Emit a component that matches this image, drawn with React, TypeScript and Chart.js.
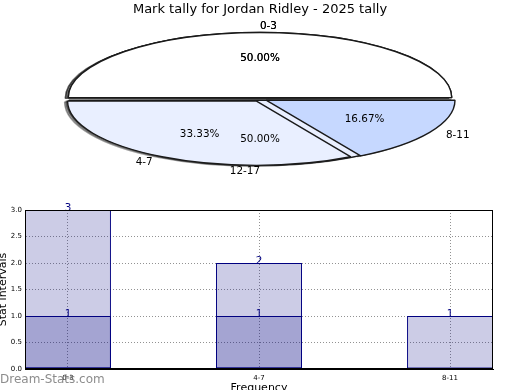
import React, { useEffect, useRef } from 'react';
import { Chart, registerables } from 'chart.js';

Chart.register(...registerables);

const FONT = "'DejaVu Sans', 'Liberation Sans', sans-serif";
const TITLE = 'Mark tally for Jordan Ridley - 2025 tally';

// Pie 1 (front): intervals
const pieLabels = ['0-3', '8-11', '4-7'];
const pieValues = [3, 1, 2];
const pieColors = ['#ffffff', '#c6d8ff', '#e9efff'];
const pieExplode = [15, 28, 28];

// Pie 2 (behind)
const pie2Labels = ['0-3', '12-17'];
const pie2Values = [1, 1];
const pie2Colors = ['#ffffff', '#e9efff'];
const pie2Explode = [15, 12];

// Bars
const categories = ['0-3', '4-7', '8-11'];
const barTotals = [3, 2, 1];
const barSecond: (number | null)[] = [1, 1, null];
const xIdx = categories.map((_, i) => i);

const R = 188;
const SY = 64 / 188;
const CY = 99;

type PieEntry = { chart?: any; labels: string[]; values: number[] };
const registry: { front: PieEntry; back: PieEntry } = {
  front: { labels: pieLabels, values: pieValues },
  back: { labels: pie2Labels, values: pie2Values },
};

function withEllipse(ctx: any, chart: any, fn: () => void) {
  const el = chart.getDatasetMeta(0).data[0];
  if (!el) return;
  const dpr = chart.currentDevicePixelRatio || 1;
  ctx.save();
  ctx.translate(0, CY);
  ctx.scale(1, SY);
  ctx.translate(0, -el.y);
  const orig = CanvasRenderingContext2D.prototype.stroke;
  ctx.stroke = function (...args: any[]) {
    const f = this.filter;
    this.save();
    this.setTransform(dpr, 0, 0, dpr, 0, 0);
    this.filter = f;
    orig.apply(this, args as any);
    this.restore();
  };
  try {
    fn();
  } finally {
    delete ctx.stroke;
    ctx.restore();
  }
}

function drawShadows(ctx: any, chart: any) {
  withEllipse(ctx, chart, () => {
    ctx.save();
    ctx.filter = 'brightness(0) opacity(0.36)';
    ctx.translate(-3, 0.8 / SY);
    chart.getDatasetMeta(0).data.forEach((el: any) => el.draw(ctx));
    ctx.restore();
  });
}

function drawLabels(ctx: any, entry: PieEntry) {
  const chart = entry.chart;
  if (!chart) return;
  const meta = chart.getDatasetMeta(0);
  const values = entry.values;
  const total = values.reduce((a, b) => a + b, 0);
  ctx.save();
  ctx.fillStyle = '#000';
  ctx.font = `10.4px ${FONT}`;
  ctx.textBaseline = 'middle';
  meta.data.forEach((el: any, i: number) => {
    const { x, y, startAngle, endAngle, outerRadius } = el.getProps(
      ['x', 'y', 'startAngle', 'endAngle', 'outerRadius'],
      true
    );
    const mid = (startAngle + endAngle) / 2;
    const circ = endAngle - startAngle;
    const off = (el.options.offset || 0) / 4;
    const fix = 1 - Math.sin(Math.min(Math.PI, circ));
    const t = off * (1 + fix);
    const ux = x + Math.cos(mid) * t;
    const uy = y + Math.sin(mid) * t;
    const at = (k: number) => [
      ux + Math.cos(mid) * outerRadius * k,
      CY + (uy - y + Math.sin(mid) * outerRadius * k) * SY,
    ];
    const c = Math.cos(mid);
    const align =
      Math.abs(c) > 1e-6 ? (c > 0 ? 'left' : 'right') : Math.sin(mid) < 0 ? 'left' : 'right';
    const [lx, ly] = at(1.1);
    ctx.textAlign = align;
    ctx.fillText(entry.labels[i], lx, ly);
    const [px, py] = at(0.6);
    ctx.textAlign = 'center';
    ctx.fillText(((values[i] / total) * 100).toFixed(2) + '%', px, py);
  });
  ctx.restore();
}

function makePiePlugin(isFront: boolean) {
  return {
    id: 'ellipsePie',
    beforeDatasetsDraw(chart: any) {
      const ctx = chart.ctx;
      if (!isFront) {
        // shadows of every wedge lie beneath all wedges
        drawShadows(ctx, chart);
        if (registry.front.chart) drawShadows(ctx, registry.front.chart);
      }
      withEllipse(ctx, chart, () => {
        chart.getDatasetMeta(0).data.forEach((el: any) => el.draw(ctx));
      });
      return false;
    },
    afterDraw(chart: any) {
      if (isFront) {
        drawLabels(chart.ctx, registry.back);
        drawLabels(chart.ctx, registry.front);
      }
    },
  };
}

function pieConfig(labels: string[], values: number[], colors: string[], explode: number[], isFront: boolean): any {
  return {
    type: 'pie',
    data: {
      labels,
      datasets: [
        {
          data: values,
          backgroundColor: colors,
          borderColor: '#1a1a1a',
          borderWidth: 1.4,
          offset: explode,
          radius: R,
          clip: false,
        },
      ],
    },
    options: {
      responsive: false,
      animation: false,
      events: [],
      rotation: 270,
      layout: { padding: 0 },
      plugins: {
        legend: { display: false },
        tooltip: { enabled: false },
        title: {
          display: isFront,
          text: TITLE,
          color: '#000',
          font: { family: FONT, size: 13, weight: 'normal' },
          padding: { top: 2, bottom: 0 },
        },
      },
    },
    plugins: [makePiePlugin(isFront)],
  };
}

const barPlugin = {
  id: 'barExtras',
  afterDatasetsDraw(chart: any) {
    const ctx = chart.ctx;
    ctx.save();
    ctx.fillStyle = '#000080';
    ctx.font = `10.4px ${FONT}`;
    ctx.textAlign = 'center';
    ctx.textBaseline = 'alphabetic';
    chart.data.datasets.forEach((ds: any, di: number) => {
      const meta = chart.getDatasetMeta(di);
      meta.data.forEach((el: any, i: number) => {
        const v = ds.data[i].y;
        if (v === null || v === undefined) return;
        ctx.fillText(String(v), el.x, el.y + 1);
      });
    });
    ctx.restore();
  },
  afterDraw(chart: any) {
    const ctx = chart.ctx;
    const a = chart.chartArea;
    ctx.save();
    ctx.strokeStyle = '#000';
    ctx.lineWidth = 1;
    ctx.strokeRect(Math.round(a.left) + 0.5, Math.round(a.top) + 0.5, Math.round(a.right - a.left) - 1, Math.round(a.bottom - a.top) - 1);
    ctx.fillStyle = 'rgba(120,120,120,0.85)';
    ctx.font = `12px ${FONT}`;
    ctx.textAlign = 'left';
    ctx.textBaseline = 'middle';
    ctx.fillText('Dream-Stats.com', 0, 380);
    ctx.restore();
  },
};

const gridStyle = { color: 'rgba(110,110,110,0.75)', lineWidth: 1, drawTicks: false, offset: false };
const borderStyle = { display: true, color: '#000', width: 1, dash: [1, 2] };

const barDataset = (label: string, vals: (number | null)[]) => ({
  label,
  data: xIdx.map((x, i) => ({ x, y: vals[i] })),
  backgroundColor: 'rgba(0,0,128,0.2)',
  borderColor: '#000080',
  borderWidth: 1,
  borderSkipped: false,
  barPercentage: 0.45,
  categoryPercentage: 1,
  grouped: false,
});

const barConfig: any = {
  type: 'bar',
  data: {
    datasets: [barDataset('total', barTotals), barDataset('second', barSecond)],
  },
  options: {
    responsive: false,
    animation: false,
    events: [],
    layout: { padding: { top: 210, right: 27, left: 0, bottom: 0 } },
    plugins: { legend: { display: false }, tooltip: { enabled: false } },
    scales: {
      x: {
        type: 'linear',
        offset: false,
        min: -0.225,
        max: 2.225,
        afterBuildTicks: (s: any) => {
          s.ticks = xIdx.map((v) => ({ value: v }));
        },
        afterFit: (s: any) => {
          s.height = 21;
        },
        ticks: {
          callback: (v: any) => categories[v] ?? '',
          autoSkip: false,
          maxRotation: 0,
          padding: 5,
          color: '#000',
          font: { family: FONT, size: 7 },
        },
        grid: gridStyle,
        border: borderStyle,
        title: {
          display: true,
          text: 'Frequency',
          color: '#000',
          font: { family: FONT, size: 11 },
          padding: { top: 0, bottom: -5 },
        },
      },
      y: {
        min: 0,
        max: 3,
        afterFit: (s: any) => {
          s.width = 25;
        },
        ticks: {
          stepSize: 0.5,
          callback: (v: any) => Number(v).toFixed(1),
          padding: 3,
          color: '#000',
          font: { family: FONT, size: 7 },
        },
        grid: gridStyle,
        border: borderStyle,
        title: {
          display: true,
          text: 'Stat intervals',
          color: '#000',
          font: { family: FONT, size: 11 },
          padding: { top: -3.6, bottom: 0 },
        },
      },
    },
  },
  plugins: [barPlugin],
};

export default function App() {
  const barRef = useRef<HTMLCanvasElement>(null);
  const backRef = useRef<HTMLCanvasElement>(null);
  const frontRef = useRef<HTMLCanvasElement>(null);

  useEffect(() => {
    document.body.style.margin = '0';
    const bar = new Chart(barRef.current!, barConfig);
    const front = new Chart(frontRef.current!, pieConfig(pieLabels, pieValues, pieColors, pieExplode, true));
    registry.front.chart = front;
    const back = new Chart(backRef.current!, pieConfig(pie2Labels, pie2Values, pie2Colors, pie2Explode, false));
    registry.back.chart = back;
    back.draw();
    front.draw();
    return () => {
      registry.front.chart = undefined;
      registry.back.chart = undefined;
      [bar, front, back].forEach((c) => c.destroy());
    };
  }, []);

  const layer: React.CSSProperties = {
    position: 'absolute',
    left: 0,
    top: 0,
    width: 520,
    height: 390,
    pointerEvents: 'none',
  };

  return (
    <div style={{ position: 'relative', width: 520, height: 390, background: '#fff' }}>
      <canvas ref={barRef} width={520} height={390} style={layer} />
      <canvas ref={backRef} width={520} height={390} style={layer} />
      <canvas ref={frontRef} width={520} height={390} style={layer} />
    </div>
  );
}
